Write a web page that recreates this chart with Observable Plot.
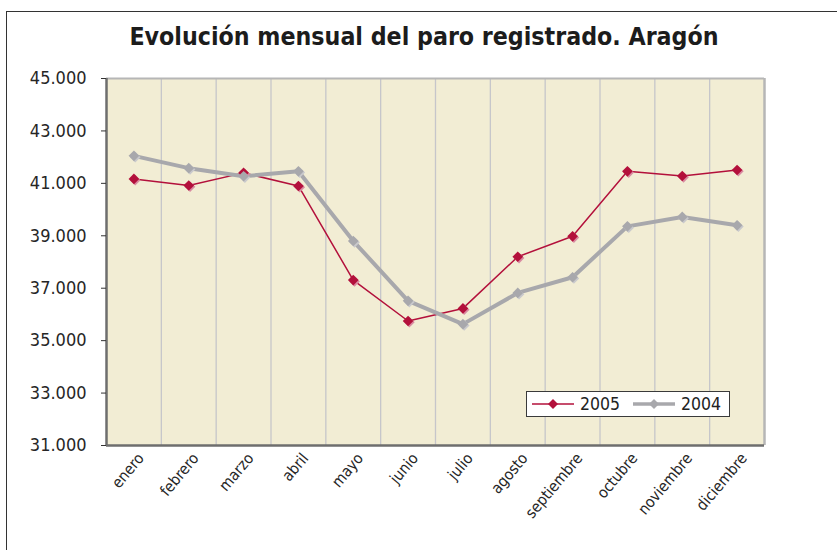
<!DOCTYPE html>
<html>
<head>
<meta charset="utf-8">
<script src="https://cdn.jsdelivr.net/npm/d3@7"></script>
<script src="https://cdn.jsdelivr.net/npm/@observablehq/plot@0.6"></script>
<style>
  body { margin: 0; background: #fff; }
  #wrap { position: relative; width: 837px; height: 550px; overflow: hidden;
          font-family: "DejaVu Sans Condensed", "DejaVu Sans", sans-serif; font-stretch: condensed; }
  #frame { position: absolute; left: 6px; top: 11px; width: 900px; height: 600px;
           border-left: 1.5px solid #333; border-top: 1.5px solid #333; }
  #title { position: absolute; left: 0; width: 848px; top: 25px; line-height: 24px; text-align: center;
           font-weight: bold; font-size: 24.7px; color: #1c1c1c; }
  #chart { position: absolute; left: 0; top: 0; }
  #legend { position: absolute; left: 526px; top: 391px; width: 202px; height: 24px;
            border: 1px solid #3a3a3a; background: #fff; display: flex; align-items: center;
            font-size: 17.5px; color: #222; }
  #legend .item { display: flex; align-items: center; }
  #legend svg { display: block; }
</style>
</head>
<body>
<div id="wrap">
  <div id="frame"></div>
  <div id="title">Evolución mensual del paro registrado. Aragón</div>
  <div id="chart"></div>
  <div id="legend"></div>
</div>
<script>
// ---- data ----
const months = ["enero", "febrero", "marzo", "abril", "mayo", "junio", "julio",
                "agosto", "septiembre", "octubre", "noviembre", "diciembre"];
const values2005 = [41170, 40920, 41400, 40900, 37310, 35750, 36230, 38200, 38980, 41460, 41280, 41510];
const values2004 = [42050, 41580, 41270, 41460, 38800, 36520, 35630, 36820, 37420, 39360, 39720, 39400];
const seriesNames = ["2005", "2004"];
const yTicks = [31000, 33000, 35000, 37000, 39000, 41000, 43000, 45000];

// ---- styles ----
const colors = { "2005": "#B3103B", "2004": "#A8A8AC" };
const shadows = { "2005": "#D98AA0", "2004": "#C9C9CC" };
const widths = { "2005": 1.5, "2004": 4 };

const rows = [];
[values2005, values2004].forEach((vals, s) => {
  vals.forEach((v, i) => rows.push({ i: i + 1, month: months[i], year: seriesNames[s], value: v }));
});
const byYear = y => rows.filter(d => d.year === y);

const xDomain = [0.5, months.length + 0.5];
const yDomain = [yTicks[0], yTicks[yTicks.length - 1]];
const gridX = d3.range(1.5, months.length, 1);
const fmt = d3.formatLocale({ thousands: ".", grouping: [3], decimal: "," }).format(",");

const marks = [
  Plot.frame({ fill: "#F2EDD4", stroke: null }),
  Plot.ruleX(gridX, { stroke: "#C6C6CA", strokeWidth: 1.3 }),
  Plot.ruleY([yDomain[1]], { stroke: "#B6B6B6", strokeWidth: 2 }),
  Plot.ruleX([xDomain[1]], { stroke: "#B6B6B6", strokeWidth: 2.5 }),
  Plot.ruleY([yDomain[0]], { stroke: "#6E6E6E", strokeWidth: 2.5 }),
  Plot.ruleX([xDomain[0]], { stroke: "#6E6E6E", strokeWidth: 2.5 }),
  Plot.axisY(yTicks, { tickSize: 5, tickPadding: 15, tickFormat: fmt, fontSize: 18,
                       stroke: "#333", fill: "#262626", label: null }),
  Plot.axisX(d3.range(1, months.length + 1), { tickSize: 0, tickPadding: 10, tickRotate: -50,
                       tickFormat: i => months[i - 1], fontSize: 15.5, fill: "#262626", dx: 7, label: null })
];
for (const y of seriesNames) {
  marks.push(Plot.line(byYear(y), { x: "i", y: "value", stroke: colors[y], strokeWidth: widths[y],
                                    strokeLinejoin: "round", strokeLinecap: "round" }));
}
for (const y of seriesNames) {
  marks.push(Plot.dot(byYear(y), { x: "i", y: "value", symbol: "diamond2", r: 4.8, fill: shadows[y],
                                   stroke: null, dx: 1.3, dy: 1.3 }));
  marks.push(Plot.dot(byYear(y), { x: "i", y: "value", symbol: "diamond2", r: 4.8, fill: colors[y],
                                   stroke: null }));
}

const chart = Plot.plot({
  width: 837, height: 550,
  marginTop: 78, marginBottom: 105, marginLeft: 106, marginRight: 73,
  x: { type: "linear", domain: xDomain, axis: null, label: null },
  y: { type: "linear", domain: yDomain, axis: null, label: null },
  style: { background: "transparent", fontFamily: "'DejaVu Sans Condensed', 'DejaVu Sans', sans-serif",
           overflow: "visible" },
  marks
});
document.getElementById("chart").appendChild(chart);

// ---- legend ----
const legend = document.getElementById("legend");
const sampleW = { "2005": 42, "2004": 42 };
seriesNames.forEach((y, k) => {
  const item = document.createElement("div");
  item.className = "item";
  item.style.marginLeft = k === 0 ? "5px" : "13px";
  const w = sampleW[y];
  item.innerHTML =
    `<svg width="${w}" height="16"><line x1="0" x2="${w}" y1="8" y2="8" stroke="${colors[y]}" stroke-width="${widths[y] === 4 ? 3.5 : 1.5}"/>` +
    `<path d="M${w/2} 3 L${w/2+5} 8 L${w/2} 13 L${w/2-5} 8Z" fill="${colors[y]}"/></svg>` +
    `<span style="margin-left:6px">${y}</span>`;
  legend.appendChild(item);
});
</script>
</body>
</html>
